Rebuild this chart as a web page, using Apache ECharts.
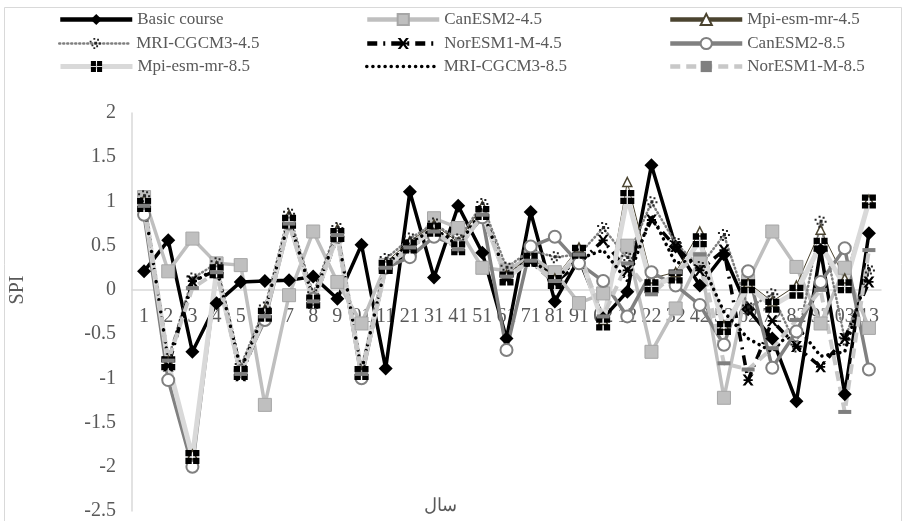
<!DOCTYPE html>
<html>
<head>
<meta charset="utf-8">
<script src="https://cdn.jsdelivr.net/npm/echarts@6/dist/echarts.min.js"></script>
<style>
  html, body { margin: 0; padding: 0; background: #fff; }
  #chart { width: 907px; height: 521px; }
</style>
</head>
<body>
<div id="chart"></div>
<script>
// Year index labels along the category axis
const years = ['1','2','3','4','5','6','7','8','9','01','11','21','31','41','51','61','71','81','91','02','12','22','32','42','52','62','72','82','92','03','13'];

// SPI series
const basicCourse = [0.21, 0.56, -0.70, -0.15, 0.09, 0.10, 0.11, 0.15, -0.10, 0.51, -0.89, 1.11, 0.14, 0.95, 0.42, -0.55, 0.88, -0.13, 0.35, -0.32, -0.02, 1.41, 0.49, 0.05, 0.40, -0.22, -0.55, -1.26, 0.45, -1.18, 0.64];
const canEsm45   = [1.05, 0.21, 0.58, 0.30, 0.28, -1.30, -0.06, 0.66, 0.09, -0.38, 0.28, 0.45, 0.81, 0.70, 0.25, 0.22, 0.38, 0.20, -0.15, -0.04, 0.50, -0.70, -0.21, 0.35, -1.22, 0.10, 0.66, 0.26, -0.38, 0.25, -0.43];
const mpi45      = [1.02, -0.80, -1.86, 0.27, -0.90, -0.22, 0.85, -0.08, 0.69, -0.92, 0.31, 0.55, 0.74, 0.54, 0.95, 0.17, 0.38, 0.13, 0.48, -0.34, 1.22, 0.13, 0.20, 0.66, -0.40, 0.08, -0.13, 0.05, 0.68, 0.13, 1.02];
const mri45      = [1.06, -0.78, 0.13, 0.30, -0.86, -0.20, 0.86, -0.05, 0.70, -0.90, 0.35, 0.58, 0.75, 0.57, 0.97, 0.25, 0.45, 0.37, 0.40, 0.70, 0.36, 0.99, 0.53, 0.26, 0.62, -0.20, -0.05, -0.64, 0.77, -0.56, 0.22];
const norEsm45   = [0.95, -0.86, 0.10, 0.22, -0.97, -0.30, 0.76, -0.15, 0.60, -0.97, 0.25, 0.48, 0.66, 0.46, 0.86, 0.12, 0.32, 0.08, 0.30, 0.56, 0.22, 0.79, 0.49, 0.22, 0.45, -1.02, -0.35, -0.64, -0.87, -0.55, 0.09];
const canEsm85   = [0.85, -1.02, -2.00, 0.20, -0.92, -0.34, 0.75, -0.10, 0.60, -1.00, 0.25, 0.37, 0.60, 0.50, 0.82, -0.68, 0.49, 0.60, 0.30, 0.10, -0.30, 0.20, 0.05, -0.17, -0.62, 0.21, -0.88, -0.47, 0.09, 0.47, -0.90];
const mpi85      = [0.96, -0.83, -1.89, 0.21, -0.94, -0.28, 0.77, -0.13, 0.62, -0.94, 0.26, 0.49, 0.68, 0.47, 0.87, 0.13, 0.34, 0.09, 0.43, -0.38, 1.05, 0.04, 0.15, 0.56, -0.43, 0.04, -0.18, -0.02, 0.51, 0.04, 1.00];
const mri85      = [0.98, -0.80, 0.08, 0.25, -0.90, -0.25, 0.80, -0.10, 0.65, -0.92, 0.28, 0.52, 0.70, 0.50, 0.90, 0.15, 0.36, 0.12, 0.35, 0.45, 0.10, 0.85, 0.30, 0.35, -0.25, -0.55, -0.70, -0.40, -0.75, -0.70, 0.25];
const norEsm85   = [0.95, -0.80, 0.02, 0.20, -0.95, -0.30, 0.75, -0.13, 0.62, -0.95, 0.25, 0.48, 0.66, 0.46, 0.85, 0.15, 0.33, 0.10, 0.40, -0.30, 0.30, -0.05, 0.20, 0.40, -0.83, -0.90, -0.66, -0.34, 0.00, -1.38, 0.45];

// Y axis range
const yMin = -2.5, yMax = 2, yStep = 0.5;

const FONT = 'Liberation Serif';
const TEXT = '#595959';

// Plot box
const GRID = { left: 132, right: 26, top: 113, bottom: 9 };
const CHART_H = 521;
const plotH = CHART_H - GRID.top - GRID.bottom;
// Shift the category axis up so it sits on the zero line
const zeroShift = plotH * (0 - yMin) / (yMax - yMin);

// Custom marker shapes
const dotCluster = 'path://M4,0h2v2h-2z M8,1h2v2h-2z M0,3h2v2h-2z M5,4h3v3h-3z M10,5h2v2h-2z M2,7h2v2h-2z M7,8h2v2h-2z M4,10h2v2h-2z';
const crossMark = 'path://M0,0L3,0L6,4L9,0L12,0L7.5,6L12,12L9,12L6,8L3,12L0,12L4.5,6Z M1,5h10v2h-10z';
const plusBox = 'path://M0,0h9v9h-9z M11,0h9v9h-9z M0,11h9v9h-9z M11,11h9v9h-9z';

const seriesDefs = [
  { name: 'Basic course', data: basicCourse, line: { color: '#000', width: 3.5 },
    symbol: 'diamond', size: 14, item: { color: '#000' }, legendWidth: 4.5 },
  { name: 'CanESM2-4.5', data: canEsm45, line: { color: '#bfbfbf', width: 3.5 },
    symbol: 'rect', size: 13, item: { color: '#bfbfbf', borderColor: '#a6a6a6', borderWidth: 1 }, legendWidth: 4.5 },
  { name: 'Mpi-esm-mr-4.5', data: mpi45, line: { color: '#4b4430', width: 1 },
    symbol: 'triangle', size: 9, item: { color: '#fff', borderColor: '#4b4430', borderWidth: 1.5 }, legendWidth: 4.5 },
  { name: 'MRI-CGCM3-4.5', data: mri45, line: { color: '#7f7f7f', width: 2.5, type: [1, 3], cap: 'round' },
    symbol: dotCluster, size: 12, item: { color: '#262626' } },
  { name: 'NorESM1-M-4.5', data: norEsm45, line: { color: '#000', width: 3.5, type: [10, 6, 2, 6] },
    symbol: crossMark, size: 11, item: { color: '#000' }, legendWidth: 4.5 },
  { name: 'CanESM2-8.5', data: canEsm85, line: { color: '#808080', width: 3.5 },
    symbol: 'circle', size: 12, item: { color: '#fff', borderColor: '#808080', borderWidth: 2 }, legendWidth: 4.5 },
  { name: 'Mpi-esm-mr-8.5', data: mpi85, line: { color: '#d9d9d9', width: 5 },
    symbol: plusBox, size: 14, item: { color: '#000' } },
  { name: 'MRI-CGCM3-8.5', data: mri85, line: { color: '#000', width: 3.5, type: [0.1, 6], cap: 'round' },
    symbol: 'none', size: 0, item: { color: '#000' }, hideLegendSymbol: true },
  { name: 'NorESM1-M-8.5', data: norEsm85, line: { color: '#c8c8c8', width: 4, type: [10, 6] },
    symbol: 'rect', size: [13, 4], item: { color: '#7f7f7f' }, legendWidth: 4.5 }
];

const series = seriesDefs.map(d => ({
  name: d.name,
  type: 'line',
  data: d.data,
  symbol: d.symbol,
  symbolSize: d.size,
  showSymbol: d.symbol !== 'none',
  lineStyle: Object.assign({}, d.line),
  itemStyle: d.item,
  emphasis: { disabled: true },
  animation: false
}));

// Legend: 3 columns x 3 rows, one component per entry so columns align
const colX = [58, 365, 668];
const rowY = [11, 35, 58];
const legends = seriesDefs.map((d, i) => {
  const lg = {
    data: [d.name],
    left: colX[i % 3],
    top: rowY[Math.floor(i / 3)],
    itemWidth: 72,
    itemHeight: 14,
    itemGap: 0,
    padding: 0,
    selectedMode: false,
    textStyle: { fontFamily: FONT, fontSize: 17, color: TEXT },
    lineStyle: {
      color: d.line.color,
      width: d.legendWidth || d.line.width,
      type: d.line.type || 'solid',
      cap: d.line.cap || 'butt',
      opacity: 1
    }
  };
  if (d.hideLegendSymbol) {
    lg.itemStyle = { opacity: 0 };
  }
  return lg;
});

const chart = echarts.init(document.getElementById('chart'), null, { renderer: 'canvas' });
chart.setOption({
  backgroundColor: '#fff',
  animation: false,
  legend: legends,
  grid: Object.assign({ containLabel: false }, GRID),
  xAxis: {
    type: 'category',
    data: years,
    boundaryGap: true,
    offset: -zeroShift,
    axisLine: { onZero: false, lineStyle: { color: '#d9d9d9', width: 1.5 } },
    axisTick: { show: false },
    axisLabel: { interval: 0, margin: 17, fontFamily: FONT, fontSize: 20, color: TEXT },
    splitLine: { show: false }
  },
  yAxis: {
    type: 'value',
    min: yMin, max: yMax, interval: yStep,
    axisLine: { show: true, lineStyle: { color: '#d9d9d9', width: 1.5 } },
    axisTick: { show: false },
    axisLabel: { margin: 16, fontFamily: FONT, fontSize: 20, color: TEXT },
    splitLine: { show: false }
  },
  graphic: [
    { type: 'rect', shape: { x: 4.5, y: 7.5, width: 897, height: 530 },
      style: { fill: 'none', stroke: '#d9d9d9', lineWidth: 1 }, silent: true },
    { type: 'text', x: 18, y: 290, rotation: Math.PI / 2,
      style: { text: 'SPI', fontFamily: FONT, fontSize: 20, fill: TEXT, align: 'center', verticalAlign: 'middle' } },
    { type: 'text', x: 440, y: 506,
      style: { text: 'سال', fontFamily: FONT, fontSize: 18, fill: TEXT, align: 'center', verticalAlign: 'middle' } }
  ],
  series: series
});
</script>
</body>
</html>
